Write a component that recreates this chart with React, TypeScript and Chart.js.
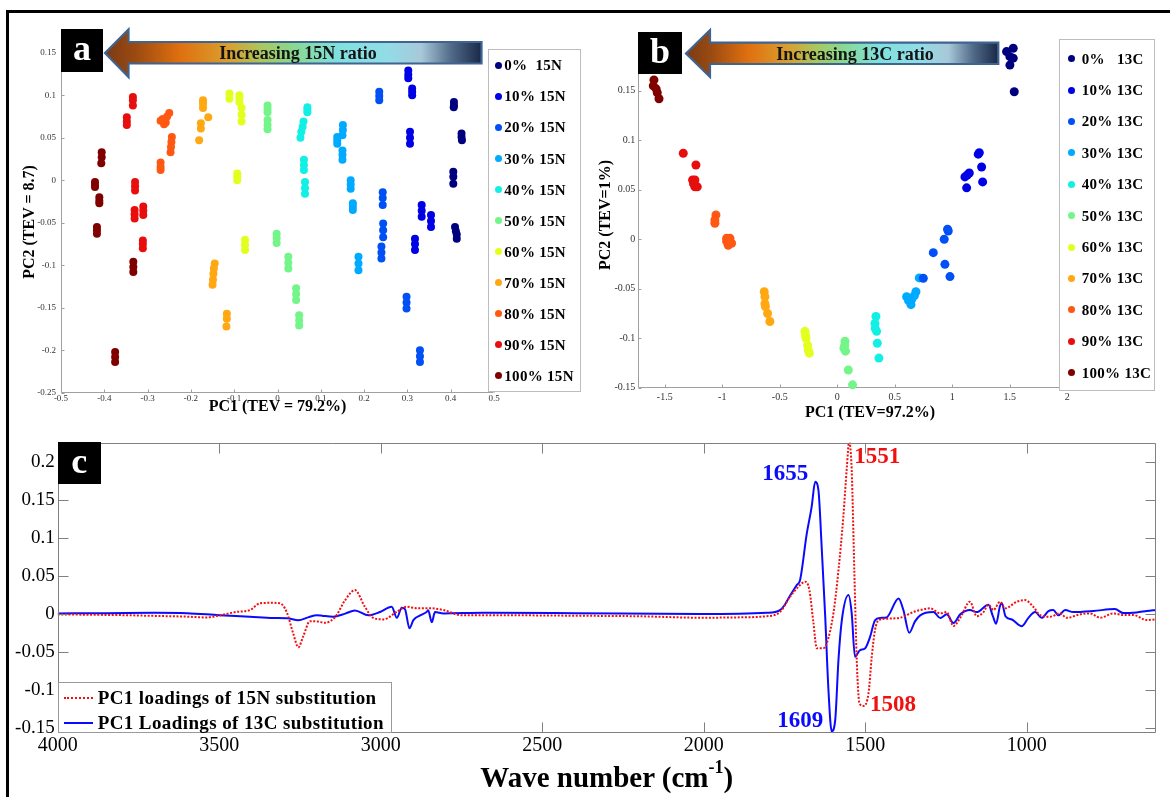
import React, { useEffect, useRef, useState } from "react";
import { Chart, registerables } from "chart.js";

Chart.register(...registerables);

const SERIF = "'Liberation Serif', 'Times New Roman', Times, serif";

// ---------------- data ----------------
const classColors = ["#00007f", "#0000e6", "#0050f5", "#00aaff", "#12f0e6", "#74f58a", "#e2ff1e", "#ffa812", "#ff5812", "#e80e0e", "#800000"];
const legendA = ["0%  15N", "10% 15N", "20% 15N", "30% 15N", "40% 15N", "50% 15N", "60% 15N", "70% 15N", "80% 15N", "90% 15N", "100% 15N"];
const legendB = ["0%   13C", "10% 13C", "20% 13C", "30% 13C", "40% 13C", "50% 13C", "60% 13C", "70% 13C", "80% 13C", "90% 13C", "100% 13C"];

// panel a: PCA scores, 15N series [PC1, PC2]
const a00 = [[0.4075, 0.092], [0.4075, 0.088], [0.407, 0.086], [0.425, 0.055], [0.425, 0.051], [0.426, 0.047], [0.406, 0.01], [0.406, 0.004], [0.406, -0.004], [0.41, -0.055], [0.412, -0.06], [0.414, -0.064], [0.414, -0.069]];
const a10 = [[0.302, 0.129], [0.302, 0.124], [0.302, 0.12], [0.311, 0.108], [0.311, 0.104], [0.311, 0.1], [0.306, 0.057], [0.306, 0.05], [0.306, 0.043], [0.333, -0.029], [0.333, -0.036], [0.333, -0.043], [0.3545, -0.041], [0.3545, -0.048], [0.3545, -0.055], [0.3175, -0.069], [0.3175, -0.075], [0.3175, -0.082]];
const a20 = [[0.235, 0.104], [0.235, 0.099], [0.235, 0.094], [0.243, -0.014], [0.243, -0.021], [0.243, -0.029], [0.244, -0.051], [0.244, -0.059], [0.244, -0.067], [0.24, -0.078], [0.24, -0.085], [0.24, -0.092], [0.298, -0.137], [0.298, -0.144], [0.298, -0.151], [0.329, -0.2], [0.329, -0.207], [0.329, -0.214]];
const a30 = [[0.151, 0.065], [0.151, 0.059], [0.15, 0.053], [0.138, 0.051], [0.138, 0.047], [0.138, 0.043], [0.15, 0.035], [0.15, 0.03], [0.15, 0.024], [0.169, 0.0], [0.169, -0.005], [0.169, -0.01], [0.174, -0.027], [0.174, -0.031], [0.174, -0.035], [0.187, -0.09], [0.187, -0.098], [0.187, -0.106]];
const a40 = [[0.069, 0.086], [0.069, 0.083], [0.069, 0.08], [0.06, 0.069], [0.058, 0.063], [0.055, 0.057], [0.053, 0.05], [0.061, 0.024], [0.061, 0.018], [0.061, 0.012], [0.0635, -0.002], [0.0635, -0.009], [0.0635, -0.016]];
const a50 = [[-0.023, 0.088], [-0.023, 0.084], [-0.023, 0.08], [-0.023, 0.071], [-0.023, 0.065], [-0.023, 0.06], [-0.002, -0.063], [-0.002, -0.068], [-0.002, -0.074], [0.025, -0.09], [0.025, -0.097], [0.025, -0.104], [0.043, -0.127], [0.043, -0.134], [0.043, -0.141], [0.05, -0.159], [0.05, -0.165], [0.05, -0.171]];
const a60 = [[-0.111, 0.102], [-0.111, 0.096], [-0.088, 0.1], [-0.088, 0.096], [-0.088, 0.092], [-0.083, 0.085], [-0.083, 0.077], [-0.083, 0.069], [-0.093, 0.008], [-0.093, 0.004], [-0.093, 0.0], [-0.075, -0.07], [-0.075, -0.076], [-0.075, -0.082]];
const a70 = [[-0.172, 0.094], [-0.172, 0.09], [-0.172, 0.085], [-0.16, 0.074], [-0.177, 0.067], [-0.177, 0.061], [-0.181, 0.047], [-0.145, -0.098], [-0.147, -0.104], [-0.148, -0.11], [-0.149, -0.117], [-0.15, -0.123], [-0.117, -0.157], [-0.117, -0.163], [-0.118, -0.172]];
const a80 = [[-0.27, 0.07], [-0.265, 0.072], [-0.258, 0.068], [-0.255, 0.075], [-0.25, 0.079], [-0.262, 0.066], [-0.244, 0.051], [-0.245, 0.045], [-0.246, 0.039], [-0.247, 0.033], [-0.27, 0.021], [-0.27, 0.016], [-0.27, 0.012]];
const a90 = [[-0.334, 0.098], [-0.334, 0.094], [-0.334, 0.088], [-0.348, 0.074], [-0.348, 0.069], [-0.348, 0.065], [-0.329, -0.002], [-0.329, -0.007], [-0.329, -0.012], [-0.33, -0.035], [-0.33, -0.04], [-0.33, -0.045], [-0.31, -0.031], [-0.31, -0.036], [-0.31, -0.041], [-0.311, -0.071], [-0.311, -0.075], [-0.311, -0.08]];
const a100 = [[-0.4215, -0.002], [-0.4215, -0.005], [-0.4215, -0.008], [-0.406, 0.033], [-0.406, 0.027], [-0.407, 0.02], [-0.4115, -0.02], [-0.4115, -0.024], [-0.4115, -0.027], [-0.417, -0.055], [-0.417, -0.059], [-0.417, -0.063], [-0.333, -0.096], [-0.333, -0.102], [-0.333, -0.108], [-0.375, -0.202], [-0.375, -0.208], [-0.375, -0.214]];

// panel b: PCA scores, 13C series [PC1, PC2]
const b00 = [[1.472, 0.1896], [1.53, 0.193], [1.501, 0.1845], [1.53, 0.183], [1.501, 0.176], [1.539, 0.149]];
const b10 = [[1.11, 0.063], [1.148, 0.067], [1.125, 0.052], [1.235, 0.0875], [1.255, 0.073], [1.264, 0.058], [1.226, 0.086], [1.13, 0.065]];
const b20 = [[0.835, -0.0135], [0.93, 0.0], [0.959, 0.0101], [0.965, 0.0084], [0.936, -0.0253], [0.98, -0.0377], [0.748, -0.0394]];
const b30 = [[0.603, -0.058], [0.646, -0.061], [0.641, -0.066], [0.684, -0.053], [0.713, -0.039], [0.62, -0.062], [0.67, -0.057]];
const b40 = [[0.336, -0.078], [0.328, -0.085], [0.342, -0.093], [0.33, -0.09], [0.348, -0.105], [0.362, -0.12]];
const b50 = [[0.067, -0.103], [0.058, -0.11], [0.072, -0.113], [0.065, -0.107], [0.096, -0.132], [0.133, -0.147]];
const b60 = [[-0.281, -0.093], [-0.276, -0.097], [-0.272, -0.1], [-0.258, -0.107], [-0.252, -0.112], [-0.243, -0.115]];
const b70 = [[-0.635, -0.053], [-0.629, -0.058], [-0.629, -0.065], [-0.625, -0.068], [-0.606, -0.075], [-0.586, -0.083]];
const b80 = [[-1.055, 0.0246], [-1.064, 0.0195], [-1.064, 0.0162], [-0.962, 0.001], [-0.933, 0.001], [-0.919, -0.004], [-0.948, -0.006], [-0.962, -0.002], [-0.94, -0.003]];
const b90 = [[-1.339, 0.0869], [-1.229, 0.075], [-1.258, 0.06], [-1.238, 0.06], [-1.217, 0.053], [-1.238, 0.053], [-1.25, 0.056]];
const b100 = [[-1.594, 0.161], [-1.6, 0.155], [-1.575, 0.152], [-1.565, 0.148], [-1.55, 0.142]];

const groupsA = [a00, a10, a20, a30, a40, a50, a60, a70, a80, a90, a100];
const groupsB = [b00, b10, b20, b30, b40, b50, b60, b70, b80, b90, b100];

// tick values
const ticksAx = [-0.5, -0.4, -0.3, -0.2, -0.1, 0, 0.1, 0.2, 0.3, 0.4, 0.5];
const ticksAy = [-0.25, -0.2, -0.15, -0.1, -0.05, 0, 0.05, 0.1, 0.15];
const ticksBx = [-1.5, -1, -0.5, 0, 0.5, 1, 1.5, 2];
const ticksBy = [-0.15, -0.1, -0.05, 0, 0.05, 0.1, 0.15];
const ticksCx = [4000, 3500, 3000, 2500, 2000, 1500, 1000];
const ticksCy = [-0.15, -0.1, -0.05, 0, 0.05, 0.1, 0.15, 0.2];

// panel c: PC1 loadings (wavenumber, loading)
const n15Wave = [4000, 3900, 3800, 3700, 3600, 3540, 3500, 3450, 3405, 3374, 3340, 3312, 3291, 3271, 3255, 3240, 3219, 3195, 3172, 3141, 3110, 3080, 3049, 3023, 2992, 2950, 2920, 2888, 2847, 2806, 2775, 2754, 2600, 2400, 2200, 2011, 1900, 1805, 1764, 1733, 1707, 1686, 1673, 1661, 1650, 1630, 1619, 1598, 1583, 1568, 1557, 1550, 1542, 1534, 1526, 1518, 1506, 1490, 1480, 1470, 1459, 1434, 1392, 1351, 1330, 1299, 1268, 1248, 1227, 1206, 1176, 1155, 1134, 1119, 1103, 1083, 1067, 1031, 1005, 980, 959, 928, 897, 876, 835, 804, 773, 732, 700, 670, 628, 600];
const n15Load = [0.0, -0.0005, -0.001, -0.002, -0.003, -0.004, -0.0015, 0.003, 0.0057, 0.0145, 0.0152, 0.0145, 0.003, -0.025, -0.0434, -0.029, -0.009, -0.0095, -0.011, -0.0035, 0.0188, 0.032, 0.01, -0.0047, -0.0066, 0.0034, 0.01, 0.008, 0.008, 0.0057, 0.0013, -0.001, -0.0012, -0.0018, -0.0025, -0.0044, -0.004, -0.0024, 0.0031, 0.0232, 0.0364, 0.043, 0.032, -0.0092, -0.0447, -0.0447, -0.038, 0.0031, 0.058, 0.128, 0.194, 0.227, 0.19, 0.058, -0.0645, -0.117, -0.1206, -0.104, -0.056, -0.021, -0.0079, -0.0057, -0.0044, 0.0031, 0.0057, 0.0079, 0.0013, 0.003, -0.0154, -0.0046, 0.0166, -0.0024, 0.003, 0.0127, 0.0057, 0.0166, 0.0079, 0.0166, 0.0188, 0.01, -0.0009, -0.0031, 0.0013, -0.0046, 0.0, 0.0013, -0.0044, 0.0013, -0.001, -0.0009, -0.0075, -0.0066];
const c13Wave = [4000, 3850, 3700, 3600, 3500, 3405, 3333, 3290, 3255, 3225, 3198, 3178, 3147, 3110, 3080, 3038, 3002, 2966, 2950, 2935, 2925, 2911, 2899, 2878, 2858, 2853, 2842, 2832, 2806, 2682, 2400, 2011, 1805, 1764, 1750, 1738, 1712, 1702, 1681, 1666, 1655, 1645, 1635, 1624, 1614, 1604, 1593, 1583, 1573, 1552, 1542, 1532, 1516, 1501, 1485, 1470, 1454, 1434, 1397, 1382, 1364, 1346, 1330, 1289, 1268, 1248, 1227, 1206, 1176, 1155, 1119, 1105, 1095, 1083, 1077, 1066, 1046, 1015, 995, 974, 954, 933, 918, 902, 881, 856, 794, 727, 701, 660, 628, 600];
const c13Load = [0.0013, 0.0015, 0.002, 0.0015, -0.001, -0.003, -0.0047, -0.005, -0.0079, -0.004, -0.001, -0.002, -0.003, 0.001, 0.005, -0.0013, 0.0031, 0.0101, -0.0046, 0.0088, 0.007, -0.0184, -0.0075, -0.0013, 0.0031, 0.0053, -0.0104, 0.003, 0.0013, 0.002, 0.0015, 0.0004, 0.002, 0.0057, 0.012, 0.021, 0.0386, 0.045, 0.1066, 0.1416, 0.1745, 0.1636, 0.089, -0.003, -0.0996, -0.154, -0.139, -0.06, -0.0092, 0.0254, 0.0013, -0.0557, -0.047, -0.045, -0.0294, -0.0079, -0.0047, -0.004, 0.021, 0.0057, -0.0242, -0.0092, -0.0013, 0.003, -0.0047, 0.0, -0.0114, 0.0, 0.0057, 0.003, 0.0127, -0.0024, -0.0123, 0.011, 0.0145, -0.0024, -0.0068, -0.0156, -0.0046, 0.003, -0.0046, 0.0044, 0.0057, -0.0013, 0.0057, 0.003, 0.0044, 0.007, 0.0017, 0.0026, 0.0044, 0.0057];

const peakText = ["1655", "1551", "1609", "1508"];
const peakWave = [1748, 1463, 1701, 1414];
const peakLoad = [0.187, 0.2096, -0.1378, -0.1167];
const peakColor = ["#0a0aff", "#f01010", "#0a0aff", "#f01010"];

const RED = "#f01010";
const BLUE = "#0a0aff";

// ---------------- helpers ----------------
const fmt = (v: number) => {
  const r = Math.round(v * 1000) / 1000;
  return r === 0 ? "0" : String(r);
};

function drawFrame(chart: any, o: any) {
  const { ctx, chartArea: a, scales } = chart;
  const xs = scales.x;
  const ys = scales.y;
  const L = Math.round(a.left) + 0.5;
  const R = Math.round(a.right) - 0.5;
  const T = Math.round(a.top) + 0.5;
  const B = Math.round(a.bottom) - 0.5;
  ctx.save();
  ctx.strokeStyle = o.color;
  ctx.lineWidth = 1;
  ctx.beginPath();
  ctx.moveTo(L, T);
  ctx.lineTo(L, B);
  ctx.lineTo(R, B);
  if (o.box) {
    ctx.lineTo(R, T);
    ctx.lineTo(L, T);
  }
  for (const t of xs.ticks) {
    const p = Math.round(xs.getPixelForValue(t.value)) + 0.5;
    ctx.moveTo(p, B);
    ctx.lineTo(p, B - o.len);
    if (o.box) {
      ctx.moveTo(p, T);
      ctx.lineTo(p, T + o.len);
    }
  }
  for (const t of ys.ticks) {
    const p = Math.round(ys.getPixelForValue(t.value)) + 0.5;
    ctx.moveTo(L, p);
    ctx.lineTo(L + o.len, p);
    if (o.box) {
      ctx.moveTo(R, p);
      ctx.lineTo(R - o.len, p);
    }
  }
  ctx.stroke();
  ctx.restore();
}

const axisFrame = {
  id: "axisFrame",
  beforeDatasetsDraw(chart: any) {
    const o = chart.options.plugins.axisFrame;
    if (o && o.under) drawFrame(chart, o);
  },
  afterDatasetsDraw(chart: any) {
    const o = chart.options.plugins.axisFrame;
    if (o && !o.under) drawFrame(chart, o);
  },
};

function scaleOpts(min: number, max: number, ticks: number[], size: number, pad: number, fixed: (s: any) => void, color: string, extra: any = {}) {
  return {
    type: "linear",
    min,
    max,
    afterBuildTicks: (s: any) => {
      s.ticks = ticks.map((v) => ({ value: v }));
    },
    afterFit: fixed,
    grid: { display: false, drawTicks: false },
    border: { display: false },
    ticks: {
      autoSkip: false,
      maxRotation: 0,
      minRotation: 0,
      padding: pad,
      color,
      font: { family: SERIF, size, lineHeight: 1 },
      callback: (v: any) => fmt(Number(v)),
    },
    ...extra,
  };
}

function scatterCfg(groups: number[][][], xr: number[], yr: number[], xt: number[], yt: number[], yW: number, xH: number, padding: any, fs: number, radius: number, xPad: number, yPad: number) {
  return {
    type: "scatter",
    data: {
      datasets: groups.map((g, i) => ({
        label: String(i),
        data: g.map(([x, y]) => ({ x, y })),
        backgroundColor: classColors[i],
        borderColor: classColors[i],
        borderWidth: 0,
        pointRadius: radius,
        pointHoverRadius: radius,
        clip: false,
      })),
    },
    options: {
      animation: false,
      responsive: false,
      maintainAspectRatio: false,
      events: [],
      layout: { padding },
      plugins: {
        legend: { display: false },
        tooltip: { enabled: false },
        axisFrame: { color: "#a0a0a0", len: 3, box: false, under: true },
      },
      scales: {
        x: scaleOpts(xr[0], xr[1], xt, fs, xPad, (s: any) => { s.height = xH; }, "#333"),
        y: scaleOpts(yr[0], yr[1], yt, fs, yPad, (s: any) => { s.width = yW; }, "#333"),
      },
    },
    plugins: [axisFrame],
  } as any;
}

const Label = ({ x, y, size, children, rotate, color = "#000", bold = true, ls = 0 }: any) => (
  <div
    style={{
      position: "absolute",
      left: x,
      top: y,
      transform: `translate(-50%,-50%)${rotate ? ` rotate(${rotate}deg)` : ""}`,
      font: `${bold ? "bold " : ""}${size}px ${SERIF}`,
      color,
      whiteSpace: "pre",
      lineHeight: 1,
      letterSpacing: ls,
    }}
  >
    {children}
  </div>
);

const Legend = ({ left, top, width, height, first, step, dotX, textX, labels }: any) => (
  <div style={{ position: "absolute", left, top, width, height, boxSizing: "border-box", border: "1px solid #bdbdbd", background: "#fff" }}>
    {labels.map((l: string, i: number) => (
      <React.Fragment key={i}>
        <div style={{ position: "absolute", left: dotX - left - 3.5, top: first + i * step - top - 3.5, width: 7, height: 7, borderRadius: "50%", background: classColors[i] }} />
        <div style={{ position: "absolute", left: textX - left, top: first + i * step - top - 8, font: `bold 15px ${SERIF}`, lineHeight: "16px", whiteSpace: "pre", color: "#000", letterSpacing: 0.3 }}>{l}</div>
      </React.Fragment>
    ))}
  </div>
);

const LetterBox = ({ left, top, w, h, ch }: any) => (
  <div style={{ position: "absolute", left, top, width: w, height: h, background: "#000", color: "#fff", font: `bold 36px ${SERIF}`, display: "flex", alignItems: "center", justifyContent: "center", lineHeight: 1 }}>
    <span style={{ marginTop: -4 }}>{ch}</span>
  </div>
);

const gradStops: [number, string][] = [
  [0, "#7a3a14"],
  [0.08, "#9a4a12"],
  [0.2, "#e0700f"],
  [0.33, "#d8a030"],
  [0.42, "#a8c860"],
  [0.5, "#88d890"],
  [0.62, "#80e0e0"],
  [0.75, "#92dce6"],
  [0.84, "#a8c8d8"],
  [0.92, "#506a88"],
  [1, "#1a2848"],
];

const Arrow = ({ id, tip, base, end, headTop, headBot, shaftTop, shaftBot, tipY, text, textX, textY }: any) => (
  <g>
    <defs>
      <linearGradient id={id} gradientUnits="userSpaceOnUse" x1={tip} y1={0} x2={end} y2={0}>
        {gradStops.map(([o, c], i) => (
          <stop key={i} offset={o} stopColor={c} />
        ))}
      </linearGradient>
    </defs>
    <path
      d={`M${tip},${tipY} L${base},${headTop} L${base},${shaftTop} L${end},${shaftTop} L${end},${shaftBot} L${base},${shaftBot} L${base},${headBot} Z`}
      fill={`url(#${id})`}
      stroke="#3f6490"
      strokeWidth={2.2}
      strokeLinejoin="miter"
    />
    <text x={textX} y={textY} textAnchor="middle" dominantBaseline="central" fontFamily={SERIF} fontWeight="bold" fontSize={18} fill="#141414">
      {text}
    </text>
  </g>
);

export default function App() {
  const refA = useRef<HTMLCanvasElement>(null);
  const refB = useRef<HTMLCanvasElement>(null);
  const refC = useRef<HTMLCanvasElement>(null);
  const [peaks, setPeaks] = useState<{ x: number; y: number }[]>([]);

  useEffect(() => {
    const charts: Chart[] = [];
    charts.push(
      new Chart(
        refA.current as HTMLCanvasElement,
        scatterCfg(groupsA, [-0.5, 0.5], [-0.25, 0.175], ticksAx, ticksAy, 61, 20, { left: 0, top: 31.5, right: 106, bottom: 17.3 }, 9, 4, 1, 5)
      )
    );
    charts.push(
      new Chart(
        refB.current as HTMLCanvasElement,
        scatterCfg(groupsB, [-1.73, 2.754], [-0.15, 0.2], ticksBx, ticksBy, 58.3, 20, { left: 0, top: 41.3, right: 16, bottom: 22.2 }, 10, 4.5, 5, 3)
      )
    );
    const cfgC: any = {
      type: "line",
      data: {
        datasets: [
          {
            label: "PC1 loadings of 15N substitution",
            data: n15Wave.map((w, i) => ({ x: w, y: n15Load[i] })),
            borderColor: RED,
            borderWidth: 2,
            borderDash: [2, 1.6],
            pointRadius: 0,
            fill: false,
            cubicInterpolationMode: "monotone",
          },
          {
            label: "PC1 Loadings of 13C substitution",
            data: c13Wave.map((w, i) => ({ x: w, y: c13Load[i] })),
            borderColor: BLUE,
            borderWidth: 2,
            pointRadius: 0,
            fill: false,
            cubicInterpolationMode: "monotone",
          },
        ],
      },
      options: {
        animation: false,
        responsive: false,
        maintainAspectRatio: false,
        events: [],
        layout: { padding: { left: 0, top: 12.3, right: 14, bottom: 33.7 } },
        plugins: {
          legend: { display: false },
          tooltip: { enabled: false },
          axisFrame: { color: "#808080", len: 10, box: true, under: false },
        },
        scales: {
          x: scaleOpts(600, 4000, ticksCx, 20, 2, (s: any) => { s.height = 30; }, "#000", { reverse: true }),
          y: scaleOpts(-0.1566, 0.2263, ticksCy, 19, 3, (s: any) => { s.width = 57.7; }, "#000"),
        },
      },
      plugins: [axisFrame],
    };
    const c = new Chart(refC.current as HTMLCanvasElement, cfgC);
    charts.push(c);
    const xs: any = c.scales.x;
    const ys: any = c.scales.y;
    setPeaks(peakWave.map((w, i) => ({ x: xs.getPixelForValue(w), y: ys.getPixelForValue(peakLoad[i]) + 430 })));
    return () => charts.forEach((ch) => ch.destroy());
  }, []);

  return (
    <div style={{ position: "absolute", left: 0, top: 0, width: 1170, height: 797, overflow: "hidden", background: "#fff" }}>
      <div style={{ position: "absolute", left: 6, top: 9.5, width: 1300, height: 900, borderTop: "3.5px solid #000", borderLeft: "3.5px solid #000" }} />
      <canvas ref={refA} width={600} height={430} style={{ position: "absolute", left: 0, top: 0, width: 600, height: 430 }} />
      <canvas ref={refB} width={590} height={430} style={{ position: "absolute", left: 580, top: 0, width: 590, height: 430 }} />
      <canvas ref={refC} width={1170} height={367} style={{ position: "absolute", left: 0, top: 430, width: 1170, height: 367 }} />

      <svg width={1170} height={797} style={{ position: "absolute", left: 0, top: 0, pointerEvents: "none" }}>
        <Arrow id="gA" tip={105} base={128.5} end={481.5} headTop={29.5} headBot={77} shaftTop={42} shaftBot={63.5} tipY={53} text="Increasing 15N ratio" textX={298} textY={53} />
        <Arrow id="gB" tip={686} base={710} end={998.3} headTop={30} headBot={77} shaftTop={42.7} shaftBot={64} tipY={53.5} text="Increasing 13C ratio" textX={855} textY={54} />
      </svg>

      <LetterBox left={60.7} top={29.3} w={42.6} h={42.4} ch="a" />
      <LetterBox left={638} top={31.7} w={44} h={42.6} ch="b" />
      <LetterBox left={57.7} top={442.3} w={43} h={42} ch="c" />

      <Legend left={488.3} top={49.3} width={92.7} height={342.4} first={64.3} step={31.07} dotX={497.3} textX={503.3} labels={legendA} />
      <Legend left={1059.3} top={39.3} width={95.7} height={351.4} first={57.7} step={31.4} dotX={1070.7} textX={1080.7} labels={legendB} />

      <Label x={28.5} y={222} size={16} rotate={-90}>PC2 (TEV = 8.7)</Label>
      <Label x={277.5} y={406} size={16}>PC1 (TEV = 79.2%)</Label>
      <Label x={605} y={215} size={16} rotate={-90}>PC2 (TEV=1%)</Label>
      <Label x={870} y={412} size={16}>PC1 (TEV=97.2%)</Label>

      <div style={{ position: "absolute", left: 57.7, top: 681.7, width: 334, height: 51.6, boxSizing: "border-box", border: "1px solid #9a9a9a", background: "#fff" }}>
        <div style={{ position: "absolute", left: 5.6, top: 14, width: 29, height: 0, borderTop: `2px dotted ${RED}` }} />
        <div style={{ position: "absolute", left: 39, top: 5, font: `bold 19px ${SERIF}`, lineHeight: "20px", whiteSpace: "nowrap", letterSpacing: 0.4 }}>PC1 loadings of 15N substitution</div>
        <div style={{ position: "absolute", left: 5.6, top: 39, width: 29, height: 0, borderTop: `2.5px solid ${BLUE}` }} />
        <div style={{ position: "absolute", left: 39, top: 30, font: `bold 19px ${SERIF}`, lineHeight: "20px", whiteSpace: "nowrap", letterSpacing: 0.4 }}>PC1 Loadings of 13C substitution</div>
      </div>

      {peaks.map((p, i) => (
        <Label key={i} x={p.x} y={p.y} size={23} color={peakColor[i]}>
          {peakText[i]}
        </Label>
      ))}

      <Label x={606.7} y={777} size={29}>
        <span>
          Wave number (cm<sup style={{ fontSize: "0.62em", verticalAlign: "0.75em", lineHeight: 0 }}>-1</sup>)
        </span>
      </Label>
    </div>
  );
}
